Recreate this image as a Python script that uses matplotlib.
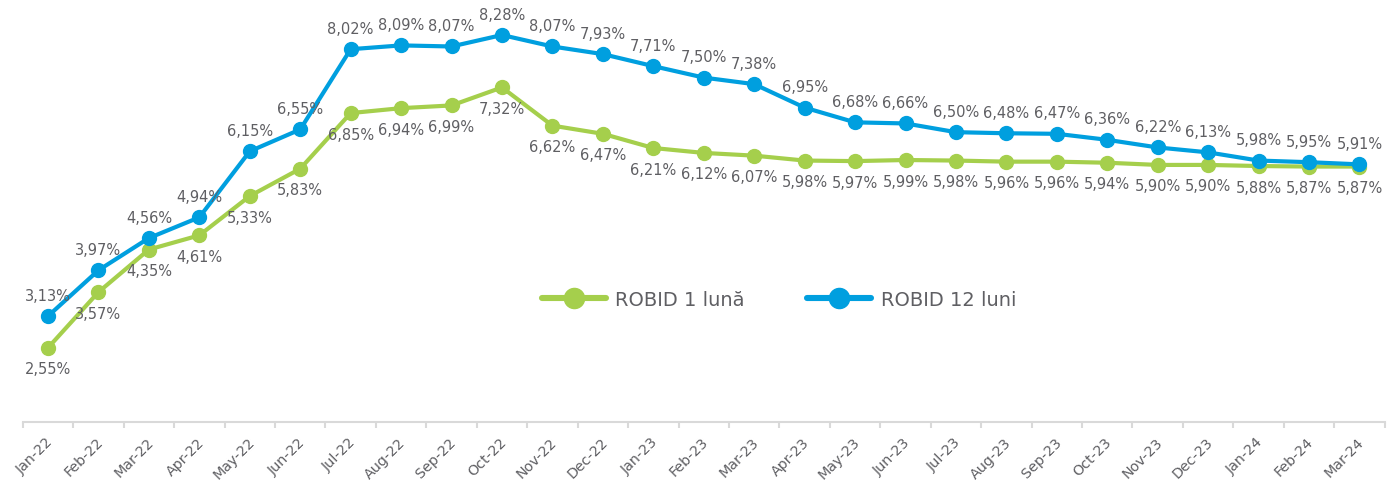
import matplotlib
matplotlib.use("Agg")
import matplotlib.pyplot as plt
import numpy as np

months = ["Jan-22", "Feb-22", "Mar-22", "Apr-22", "May-22", "Jun-22", "Jul-22", "Aug-22",
          "Sep-22", "Oct-22", "Nov-22", "Dec-22", "Jan-23", "Feb-23", "Mar-23", "Apr-23",
          "May-23", "Jun-23", "Jul-23", "Aug-23", "Sep-23", "Oct-23", "Nov-23", "Dec-23",
          "Jan-24", "Feb-24", "Mar-24"]
robid_1 = [2.55, 3.57, 4.35, 4.61, 5.33, 5.83, 6.85, 6.94, 6.99, 7.32, 6.62, 6.47, 6.21,
           6.12, 6.07, 5.98, 5.97, 5.99, 5.98, 5.96, 5.96, 5.94, 5.90, 5.90, 5.88, 5.87, 5.87]
robid_12 = [3.13, 3.97, 4.56, 4.94, 6.15, 6.55, 8.02, 8.09, 8.07, 8.28, 8.07, 7.93, 7.71,
            7.50, 7.38, 6.95, 6.68, 6.66, 6.50, 6.48, 6.47, 6.36, 6.22, 6.13, 5.98, 5.95, 5.91]
names = ["ROBID 1 lună", "ROBID 12 luni"]

plt.rcParams['font.family'] = ['DejaVu Sans']
GREEN = "#A5CF4C"
BLUE = "#009FDF"
TXT = "#5F5F63"

W, H = 1399, 481
fig = plt.figure(figsize=(W / 100, H / 100), dpi=100)
ax = fig.add_axes([22.8 / W, (H - 423) / H, (1384.7 - 22.8) / W, 423 / H])
x = np.arange(len(months))

ax.plot(x, robid_1, color=GREEN, lw=3.0, marker='o', ms=10, solid_capstyle='round',
        solid_joinstyle='round', label=names[0], zorder=3)
ax.plot(x, robid_12, color=BLUE, lw=3.0, marker='o', ms=10, solid_capstyle='round',
        solid_joinstyle='round', label=names[1], zorder=3)

def fmt(v):
    return f"{v:.2f}".replace(".", ",") + "%"

for i, v in enumerate(robid_1):
    ax.annotate(fmt(v), (x[i], v), xytext=(0, -21), textcoords='offset pixels',
                ha='center', va='center', fontsize=10.5, color=TXT)
for i, v in enumerate(robid_12):
    ax.annotate(fmt(v), (x[i], v), xytext=(0, 21), textcoords='offset pixels',
                ha='center', va='center', fontsize=10.5, color=TXT)

ax.set_xlim(-0.5, len(months) - 0.5)
ax.set_ylim(1.19, 8.94)
for s in ['top', 'right', 'left']:
    ax.spines[s].set_visible(False)
ax.spines['bottom'].set_color('#D9D9D9')
ax.spines['bottom'].set_linewidth(1.5)
ax.set_yticks([])
ax.set_xticks(x - 0.05)
ax.set_xticklabels(months, rotation=45, ha='right', rotation_mode='anchor',
                   fontsize=10.3, color=TXT)
ax.tick_params(axis='x', which='major', length=0, pad=9)
ax.set_xticks(np.arange(-0.5, len(months)), minor=True)
ax.tick_params(axis='x', which='minor', length=4, width=1.5, color='#D9D9D9')

leg = ax.legend(loc='center', bbox_to_anchor=((779 - 22.8) / (1384.7 - 22.8), 1 - 300 / 423),
                ncol=2, frameon=False, fontsize=14, handlelength=3.3, columnspacing=3.2,
                handletextpad=0.5, markerscale=1.45)
for t in leg.get_texts():
    t.set_color(TXT)
for h in leg.get_lines():
    h.set_linewidth(4.4)

fig.savefig("out.png", dpi=100)
